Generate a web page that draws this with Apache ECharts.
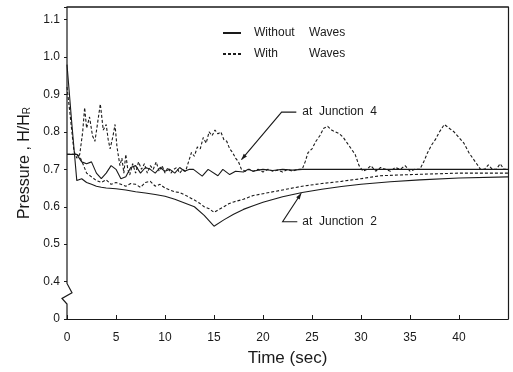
<!DOCTYPE html>
<html>
<head>
<meta charset="utf-8">
<script src="https://cdn.jsdelivr.net/npm/echarts@6/dist/echarts.min.js"></script>
<style>
  html, body { margin: 0; background: #fff; }
  #chart { width: 513px; height: 372px; }
</style>
</head>
<body>
<div id="chart"></div>
<script>
// Junction 4, with waves (dashed)
const j4WaveTime = [0, 0.3, 0.7, 1.0, 1.3, 1.6, 1.8, 2.0, 2.3, 2.6, 2.85, 3.1, 3.4, 3.7, 4.0, 4.2, 4.4, 4.7, 4.9, 5.1,
  5.4, 5.6, 5.8, 6.0, 6.2, 6.4, 6.7, 7.0, 7.3, 7.6, 7.9, 8.2, 8.5, 8.8, 9.1, 9.4, 9.7, 10.0, 10.3, 10.6,
  10.9, 11.2, 11.5, 11.8, 12.1, 12.4, 12.7, 13.0, 13.3, 13.6, 13.9, 14.2, 14.5, 14.8, 15.1, 15.4, 15.7, 16.0, 16.3, 16.6,
  16.9, 17.2, 17.5, 17.8, 18.2, 18.6, 19.0, 19.5, 20, 20.5, 21, 21.5, 22, 22.5, 23, 23.5, 24, 24.3, 24.6, 25,
  25.4, 25.8, 26.2, 26.6, 27, 27.4, 27.8, 28.2, 28.6, 29, 29.4, 29.8, 30.2, 30.6, 31, 31.5, 32, 32.5, 33, 33.5,
  34, 34.5, 35, 35.5, 36, 36.4, 36.8, 37.2, 37.6, 38, 38.5, 39, 39.5, 40, 40.5, 41, 41.4, 41.8, 42.2, 42.6,
  43, 43.4, 43.8, 44.2, 44.6, 45];
const j4WaveValue = [0.92, 0.85, 0.75, 0.73, 0.74, 0.80, 0.865, 0.81, 0.84, 0.79, 0.775, 0.82, 0.875, 0.805, 0.82, 0.78, 0.755, 0.79, 0.82, 0.76,
  0.71, 0.73, 0.69, 0.74, 0.70, 0.685, 0.715, 0.69, 0.72, 0.70, 0.715, 0.69, 0.71, 0.70, 0.72, 0.695, 0.71, 0.69, 0.705, 0.69,
  0.70, 0.705, 0.69, 0.70, 0.695, 0.72, 0.745, 0.735, 0.76, 0.755, 0.785, 0.77, 0.80, 0.79, 0.805, 0.795, 0.80, 0.78, 0.775, 0.755,
  0.745, 0.73, 0.72, 0.70, 0.695, 0.70, 0.695, 0.70, 0.693, 0.70, 0.695, 0.698, 0.693, 0.70, 0.695, 0.70, 0.70, 0.72, 0.745, 0.755,
  0.775, 0.79, 0.81, 0.815, 0.805, 0.80, 0.795, 0.785, 0.77, 0.755, 0.74, 0.71, 0.695, 0.70, 0.71, 0.695, 0.705, 0.70, 0.695, 0.705,
  0.70, 0.71, 0.695, 0.70, 0.70, 0.72, 0.745, 0.765, 0.78, 0.80, 0.82, 0.81, 0.80, 0.785, 0.77, 0.745, 0.73, 0.715, 0.70, 0.70,
  0.712, 0.70, 0.70, 0.715, 0.70, 0.70];

// Junction 4, without waves (solid)
const j4CalmTime = [0, 0.5, 1.0, 1.5, 2.0, 2.5, 3.0, 3.5, 4.0, 4.5, 5.0, 5.5, 6.0, 6.5, 7.0, 7.5, 8.0, 8.5, 9.0, 9.5,
  10.0, 10.5, 11.0, 11.5, 12.0, 12.5, 12.9, 13.8, 14.4, 15.4, 15.9, 16.6, 17.2, 18.0, 18.5, 19, 19.5, 20, 21, 22,
  23, 24, 26, 28, 30, 33, 36, 40, 45];
const j4CalmValue = [0.74, 0.74, 0.74, 0.72, 0.715, 0.72, 0.69, 0.675, 0.69, 0.71, 0.70, 0.675, 0.68, 0.705, 0.71, 0.69, 0.705, 0.70, 0.69, 0.705,
  0.695, 0.70, 0.69, 0.705, 0.695, 0.70, 0.70, 0.682, 0.70, 0.683, 0.70, 0.686, 0.695, 0.693, 0.70, 0.695, 0.698, 0.70, 0.697, 0.70,
  0.698, 0.70, 0.70, 0.70, 0.70, 0.70, 0.70, 0.70, 0.70];

// Junction 2, without waves (solid)
const j2CalmTime = [0, 0.5, 1.0, 1.5, 2.0, 2.5, 3.0, 3.5, 4, 5, 6, 7, 8, 9, 10, 11, 12, 13, 14, 15,
  16, 17, 18, 19, 20, 22, 24, 26, 28, 30, 33, 36, 40, 45];
const j2CalmValue = [0.98, 0.82, 0.67, 0.675, 0.665, 0.66, 0.655, 0.652, 0.65, 0.648, 0.645, 0.64, 0.637, 0.633, 0.628, 0.62, 0.61, 0.60, 0.577, 0.548,
  0.565, 0.58, 0.593, 0.603, 0.612, 0.627, 0.638, 0.647, 0.654, 0.66, 0.667, 0.672, 0.677, 0.68];

// Junction 2, with waves (dashed)
const j2WaveTime = [0, 0.5, 1.0, 1.3, 1.7, 2.0, 2.5, 3.0, 3.5, 4.0, 4.5, 5, 5.5, 6, 6.5, 7, 7.5, 8, 8.5, 9,
  9.5, 10, 10.5, 11, 11.5, 12, 12.5, 13, 13.5, 14, 14.5, 15, 15.5, 16, 16.5, 17, 18, 19, 20, 22,
  24, 26, 28, 30, 32, 35, 40, 45];
const j2WaveValue = [0.74, 0.74, 0.74, 0.735, 0.71, 0.69, 0.68, 0.67, 0.665, 0.672, 0.66, 0.665, 0.66, 0.655, 0.662, 0.66, 0.652, 0.665, 0.668, 0.655,
  0.66, 0.65, 0.645, 0.64, 0.638, 0.632, 0.625, 0.618, 0.61, 0.60, 0.595, 0.585, 0.593, 0.60, 0.608, 0.613, 0.62, 0.63, 0.635, 0.645,
  0.655, 0.662, 0.668, 0.675, 0.683, 0.686, 0.69, 0.69];

const xTicks = [0, 5, 10, 15, 20, 25, 30, 35, 40];
const legendNames = ['Without Waves', 'With Waves'];

const pairs = (t, v) => t.map((x, i) => [x, v[i]]);
const ink = '#1a1a1a';
const font = 'Liberation Sans';

const chart = echarts.init(document.getElementById('chart'));

function lineSeries(name, t, v, dashed) {
  return {
    name: name,
    type: 'line',
    data: pairs(t, v),
    symbol: 'none',
    smooth: false,
    animation: false,
    lineStyle: {color: ink, width: 1.1, type: dashed ? [3, 2] : 'solid'},
    itemStyle: {color: ink},
  };
}

const legendText = {fontFamily: font, fontSize: 12, color: ink};

chart.setOption({
  backgroundColor: '#fff',
  animation: false,
  grid: {left: 67, right: 5, top: 7, bottom: 48, show: false},
  legend: {
    data: legendNames,
    orient: 'vertical',
    left: 222,
    top: 27,
    padding: 0,
    itemWidth: 18,
    itemHeight: 8,
    itemGap: 9,
    itemStyle: {opacity: 0},
    textStyle: {
      ...legendText,
      rich: {p: {width: 8}, a: {...legendText, width: 55}, b: legendText},
    },
    formatter: name => {
      const p = name.split(' ');
      return '{p|}{a|' + p[0] + '}{b|' + p[1] + '}';
    },
  },
  xAxis: [{
    type: 'value',
    min: 0,
    max: 45,
    interval: 5,
    name: 'Time (sec)',
    nameLocation: 'middle',
    nameGap: 31,
    nameTextStyle: {fontFamily: font, fontSize: 17, color: ink},
    axisLine: {lineStyle: {color: ink, width: 1.2}},
    axisTick: {inside: true, length: 4, lineStyle: {color: ink}},
    axisLabel: {
      fontFamily: font, fontSize: 12, color: ink, margin: 13,
      formatter: v => (xTicks.includes(v) ? String(v) : ''),
    },
    splitLine: {show: false},
  }, {
    type: 'value', position: 'top', min: 0, max: 45,
    axisLine: {show: true, onZero: false, lineStyle: {color: ink, width: 1.5}},
    axisTick: {show: false}, axisLabel: {show: false}, splitLine: {show: false},
  }],
  yAxis: [{
    type: 'value',
    min: 0.3,
    max: 1.134,
    interval: 0.1,
    name: 'Pressure , H/H{s|R}',
    nameLocation: 'middle',
    nameRotate: 90,
    nameGap: 34,
    nameTextStyle: {
      fontFamily: font, fontSize: 16, color: ink,
      rich: {s: {fontFamily: font, fontSize: 10, color: ink, verticalAlign: 'bottom', padding: [6, 0, 0, 0]}},
    },
    axisLine: {show: false},
    axisTick: {length: 3, lineStyle: {color: ink}},
    axisLabel: {
      fontFamily: font, fontSize: 12, color: ink, margin: 7,
      formatter: v => {
        const k = Math.round(v * 10);
        if (Math.abs(v * 10 - k) > 1e-6) return '';
        if (k === 3) return '0';
        return (k / 10).toFixed(1);
      },
    },
    splitLine: {show: false},
  }, {
    type: 'value', position: 'right', min: 0.3, max: 1.134,
    axisLine: {show: true, onZero: false, lineStyle: {color: ink, width: 1.2}},
    axisTick: {show: false}, axisLabel: {show: false}, splitLine: {show: false},
  }],
  series: [
    lineSeries(legendNames[0], j4CalmTime, j4CalmValue, false),
    lineSeries(legendNames[1], j4WaveTime, j4WaveValue, true),
    lineSeries(legendNames[0], j2CalmTime, j2CalmValue, false),
    lineSeries(legendNames[1], j2WaveTime, j2WaveValue, true),
  ],
});

// annotations and the broken left axis, placed in data coordinates
const px = (t, v) => chart.convertToPixel({gridIndex: 0}, [t, v]);
const leftTop = px(0, 1.134);
const leftBottom = px(0, 0.3);
const b1 = px(0, 0.395);
const b2 = px(0, 0.37);
const b3 = px(0, 0.355);
const b4 = px(0, 0.34);
const axisPoints = [leftTop, b1, [b2[0] + 5, b2[1]], [b3[0] - 5, b3[1]], b4, leftBottom];

const j4Tip = px(17.8, 0.726);
const j4Elbow = px(21.9, 0.853);
const j4End = px(23.4, 0.853);
const j2Tip = px(23.9, 0.636);
const j2Elbow = px(22.0, 0.56);
const j2End = px(23.5, 0.56);

function arrowHead(tip, from, size) {
  const dx = from[0] - tip[0];
  const dy = from[1] - tip[1];
  const len = Math.hypot(dx, dy);
  const ux = dx / len, uy = dy / len;
  return [
    [tip[0] + ux * size - uy * size * 0.35, tip[1] + uy * size + ux * size * 0.35],
    tip,
    [tip[0] + ux * size + uy * size * 0.35, tip[1] + uy * size - ux * size * 0.35],
  ];
}

const lineStyle = {stroke: ink, lineWidth: 1.1, fill: null};
chart.setOption({
  graphic: [
    {type: 'polyline', shape: {points: axisPoints}, style: {stroke: ink, lineWidth: 1.2, fill: null}},
    {type: 'polyline', shape: {points: [j4Tip, j4Elbow, j4End]}, style: lineStyle},
    {type: 'polygon', shape: {points: arrowHead(j4Tip, j4Elbow, 6)}, style: {fill: ink}},
    {type: 'polyline', shape: {points: [j2Tip, j2Elbow, j2End]}, style: lineStyle},
    {type: 'polygon', shape: {points: arrowHead(j2Tip, j2Elbow, 6)}, style: {fill: ink}},
    {type: 'text', x: j4End[0] + 6, y: j4End[1], style: {text: 'at  Junction  4', fontFamily: font, fontSize: 12, fill: ink, verticalAlign: 'middle'}},
    {type: 'text', x: j2End[0] + 5, y: j2End[1], style: {text: 'at  Junction  2', fontFamily: font, fontSize: 12, fill: ink, verticalAlign: 'middle'}},
  ],
});
</script>
</body>
</html>
